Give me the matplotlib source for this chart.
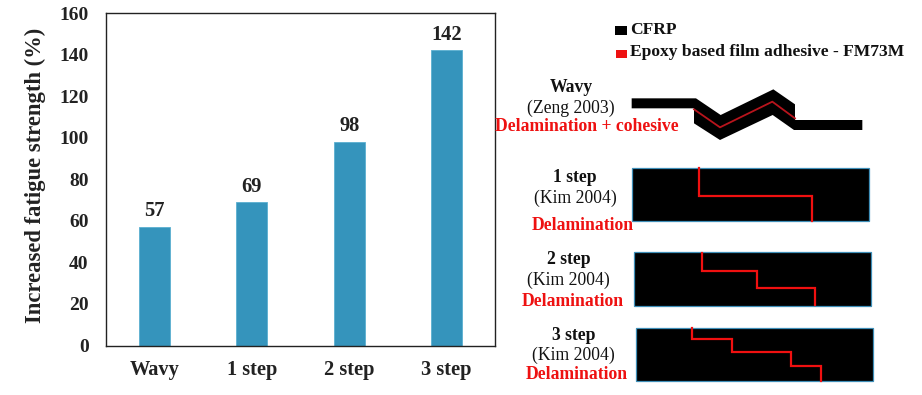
import matplotlib
matplotlib.use('Agg')
import matplotlib.pyplot as plt
from matplotlib.patches import Polygon, Rectangle

plt.rcParams['font.family'] = ['Liberation Serif', 'DejaVu Serif']

categories = ['Wavy', '1 step', '2 step', '3 step']
values = [57, 69, 98, 142]
yticks = [0, 20, 40, 60, 80, 100, 120, 140, 160]

W, H = 922, 395
fig = plt.figure(figsize=(W/100, H/100), dpi=100)

# bar chart
ax = fig.add_axes([106/W, 1-345.5/H, 389/W, 332.5/H])
ax.bar(categories, values, width=0.32, color='#3594BC', edgecolor='#5AAFD0', linewidth=0.6)
ax.set_xlim(-0.5, 3.5)
ax.set_ylim(0, 160)
ax.set_yticks(yticks)
ax.tick_params(length=0)
ax.tick_params(axis='y', pad=12.5, labelsize=14)
ax.tick_params(axis='x', pad=10.5, labelsize=14.7)
for lab in ax.get_xticklabels() + ax.get_yticklabels():
    lab.set_fontweight('bold')
    lab.set_color('#222222')
for s in ax.spines.values():
    s.set_linewidth(1.0)
    s.set_color('#222222')
for i, v in enumerate(values):
    ax.annotate(str(v), (i, v), xytext=(0, 4), textcoords='offset points', ha='center', va='bottom',
                fontsize=14.8, fontweight='bold', color='#222222')
fig.text(35/W, 1-175.5/H, 'Increased fatigue strength (%)', rotation=90, ha='center', va='center',
         fontsize=16.3, fontweight='bold', color='#222222')

# schematics, drawn in pixel coordinates of the picture
ov = fig.add_axes([0, 0, 1, 1], facecolor='none')
ov.set_xlim(0, W)
ov.set_ylim(H, 0)
ov.axis('off')

def crop1(pts):
    return [(490 + x/3, 10 + y/3) for x, y in pts]

def crop2(pts):
    return [(490 + x/3, 155 + y/3) for x, y in pts]

wavy = [(425, 265), (618, 265), (692, 315), (850, 238), (915, 283), (915, 330), (1117, 330), (1117, 360),
        (912, 360), (848, 315), (690, 390), (612, 340), (612, 295), (425, 295)]
ov.add_patch(Polygon(crop1(wavy), closed=True, color='black', lw=0))
xs, ys = zip(*crop1([(612, 298), (690, 352), (847, 275), (915, 325)]))
ov.plot(xs, ys, color='#B8141C', lw=1.3)

# legend
ov.add_patch(Rectangle((615, 26), 11.7, 9.3, color='black', lw=0))
ov.add_patch(Rectangle((616, 49.5), 10.7, 8.5, color='#EE1111', lw=0))
ov.text(630, 29.5, 'CFRP', ha='left', va='center', fontsize=12.6, fontweight='bold', color='#111111')
ov.text(630, 52, 'Epoxy based film adhesive - FM73M', ha='left', va='center', fontsize=12.6,
        fontweight='bold', color='#111111')

boxes = [(426, 40, 1137, 198), (432, 292, 1142, 452), (439, 518, 1148, 679)]
cracks = [
    [(628, 40), (628, 124), (966, 124), (966, 198)],
    [(636, 295), (636, 348), (800, 348), (800, 399), (974, 399), (974, 450)],
    [(605, 518), (605, 552), (725, 552), (725, 590), (904, 590), (904, 633), (993, 633), (993, 677)],
]
for (x0, y0, x1, y1), crack in zip(boxes, cracks):
    (a, b), (c, d) = crop2([(x0, y0), (x1, y1)])
    ov.add_patch(Rectangle((a, b), c-a, d-b, facecolor='black', edgecolor='#3E8FB8', lw=0.9))
    xs, ys = zip(*crop2(crack))
    ov.plot(xs, ys, color='#F01010', lw=1.6, solid_joinstyle='miter')

def label(pos, s, bold=True, color='#111111', size=12.7):
    ov.text(pos[0], pos[1], s, ha='center', va='center', fontsize=size,
            fontweight='bold' if bold else 'normal', color=color)

label(crop1([(243, 232)])[0], 'Wavy')
label(crop1([(243, 295)])[0], '(Zeng 2003)', bold=False)
label(crop1([(290, 350)])[0], 'Delamination + cohesive', color='#EE1111')

names = ['1 step', '2 step', '3 step']
name_pos = [(255, 67), (235, 312), (251, 540)]
ref_pos = [(255, 130), (235, 375), (251, 602)]
del_pos = [(278, 210), (248, 440), (260, 658)]
for n, p, r, d in zip(names, name_pos, ref_pos, del_pos):
    label(crop2([p])[0], n)
    label(crop2([r])[0], '(Kim 2004)', bold=False)
    label(crop2([d])[0], 'Delamination', color='#EE1111')

fig.savefig('out.png', dpi=100)
